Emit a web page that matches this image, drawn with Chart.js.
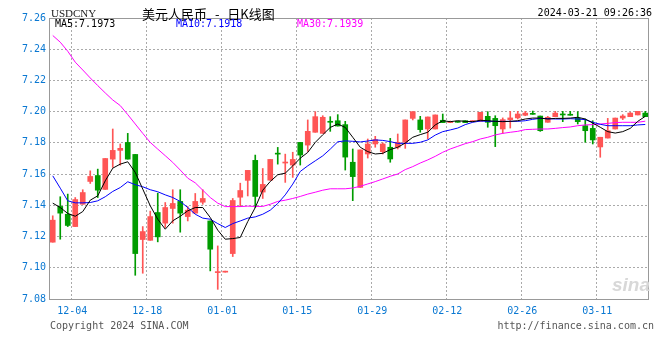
<!DOCTYPE html>
<html>
<head>
<meta charset="utf-8">
<script src="https://cdn.jsdelivr.net/npm/chart.js@4/dist/chart.umd.min.js"></script>
<style>
  body { margin: 0; background: #fff; }
  #wrap { position: relative; width: 660px; height: 360px; background: #fff; }
  #wrap canvas { position: absolute; left: 0; top: 0; }
  .t { position: absolute; white-space: pre; line-height: 1; }
  .mono { font: 10px "DejaVu Sans Mono", monospace; }
</style>
</head>
<body>
<div id="wrap">
  <canvas id="mycanvas" width="660" height="360"></canvas>
  <div class="t" style="left:51px;top:7px;font:11px 'Liberation Serif',serif;color:#222">USDCNY</div>
  <div class="t" style="left:142px;top:4px;font:13px 'Noto Sans CJK SC',sans-serif;color:#000;word-spacing:5px">美元人民币 - 日K线图</div>
  <div class="t mono" style="right:8px;top:7px;color:#000">2024-03-21 09:26:36</div>
  <div class="t mono" style="left:55px;top:18px;color:#000">MA5:7.1973</div>
  <div class="t mono" style="left:176px;top:18px;color:#0000ff">MA10:7.1918</div>
  <div class="t mono" style="left:297px;top:18px;color:#ff00ff">MA30:7.1939</div>
  <div class="t" style="left:612px;top:274px;font:italic bold 19px 'Liberation Sans',sans-serif;color:#d8d8d8">sina</div>
  <div class="t mono" style="left:50px;top:320px;color:#555">Copyright 2024 SINA.COM</div>
  <div class="t mono" style="right:6px;top:320px;color:#555">http://finance.sina.com.cn</div>
</div>
<script>
var dates = ['11-29','11-30','12-01','12-04','12-05','12-06','12-07','12-08','12-11','12-12',
  '12-13','12-14','12-15','12-18','12-19','12-20','12-21','12-22','12-25','12-26',
  '12-27','12-28','12-29','01-01','01-02','01-03','01-04','01-05','01-08','01-09',
  '01-10','01-11','01-12','01-15','01-16','01-17','01-18','01-19','01-22','01-23',
  '01-24','01-25','01-26','01-29','01-30','01-31','02-01','02-02','02-05','02-06',
  '02-07','02-08','02-09','02-12','02-13','02-14','02-15','02-16','02-19','02-20',
  '02-21','02-22','02-23','02-26','02-27','02-28','02-29','03-01','03-04','03-05',
  '03-06','03-07','03-08','03-11','03-12','03-13','03-14','03-15','03-18','03-19'];
var tickDates = ['12-04','12-18','01-01','01-15','01-29','02-12','02-26','03-11'];
var yTicks = [7.08, 7.10, 7.12, 7.14, 7.16, 7.18, 7.20, 7.22, 7.24, 7.26];

var open = [7.1164,7.1393,7.1343,7.1264,7.1407,7.1553,7.1591,7.1502,7.1696,7.1752,
  7.1803,7.1726,7.1181,7.1176,7.1354,7.1286,7.1380,7.1425,7.1328,7.1350,
  7.1420,7.1300,7.0969,7.0972,7.1091,7.1452,7.1560,7.1688,7.1485,7.1561,
  7.1733,7.1671,7.1658,7.1803,7.1786,7.1868,7.1861,7.1938,7.1942,7.1917,
  7.1676,7.1515,7.1729,7.1793,7.1744,7.1772,7.1772,7.1804,7.1957,7.1947,
  7.1889,7.1889,7.1945,7.1930,7.1936,7.1942,7.1936,7.1938,7.1970,7.1957,
  7.1889,7.1949,7.1960,7.1977,7.1987,7.1972,7.1932,7.1968,7.1985,7.1981,
  7.1957,7.1910,7.1893,7.1774,7.1831,7.1889,7.1959,7.1968,7.1979,7.1991];
var close = [7.1305,7.1350,7.1271,7.1437,7.1482,7.1585,7.1497,7.1700,7.1752,7.1765,
  7.1696,7.1091,7.1232,7.1328,7.1198,7.1386,7.1412,7.1350,7.1369,7.1425,
  7.1444,7.1119,7.0971,7.0975,7.1431,7.1495,7.1624,7.1457,7.1534,7.1694,
  7.1728,7.1673,7.1694,7.1722,7.1874,7.1968,7.1964,7.1932,7.1908,7.1709,
  7.1584,7.1755,7.1793,7.1821,7.1793,7.1697,7.1804,7.1947,7.2000,7.1885,
  7.1966,7.1979,7.1930,7.1937,7.1932,7.1930,7.1942,7.1996,7.1932,7.1910,
  7.1949,7.1960,7.1985,7.1991,7.1983,7.1878,7.1964,7.1991,7.1979,7.1977,
  7.1936,7.1878,7.1819,7.1836,7.1878,7.1959,7.1972,7.1991,7.2002,7.1968];
var high = [7.1333,7.1455,7.1472,7.1450,7.1500,7.1621,7.1632,7.1700,7.1889,7.1793,
  7.1861,7.1726,7.1264,7.1363,7.1478,7.1418,7.1500,7.1500,7.1392,7.1476,
  7.1500,7.1300,7.1140,7.0975,7.1444,7.1542,7.1624,7.1722,7.1636,7.1694,
  7.1771,7.1728,7.1740,7.1803,7.1947,7.2000,7.1974,7.1968,7.1981,7.1938,
  7.1761,7.1755,7.1825,7.1842,7.1800,7.1829,7.1857,7.1947,7.2000,7.1970,
  7.1966,7.1979,7.1985,7.1940,7.1936,7.1942,7.1942,7.1996,7.2000,7.1974,
  7.1960,7.2002,7.2002,7.2002,7.2004,7.1972,7.1970,7.2002,7.2002,7.2002,
  7.2000,7.1953,7.1942,7.1836,7.1957,7.1959,7.1981,7.1995,7.2002,7.2002];
var low = [7.1164,7.1183,7.1264,7.1264,7.1407,7.1540,7.1450,7.1502,7.1643,7.1657,
  7.1696,7.0952,7.0965,7.1176,7.1166,7.1258,7.1286,7.1228,7.1300,7.1350,
  7.1407,7.0980,7.0862,7.0972,7.1072,7.1392,7.1460,7.1386,7.1444,7.1561,
  7.1664,7.1547,7.1579,7.1658,7.1745,7.1868,7.1861,7.1874,7.1908,7.1626,
  7.1430,7.1515,7.1703,7.1772,7.1729,7.1676,7.1761,7.1765,7.1947,7.1868,
  7.1825,7.1889,7.1930,7.1930,7.1932,7.1930,7.1936,7.1938,7.1900,7.1776,
  7.1861,7.1895,7.1953,7.1974,7.1983,7.1874,7.1932,7.1968,7.1936,7.1977,
  7.1921,7.1804,7.1793,7.1708,7.1831,7.1889,7.1949,7.1968,7.1979,7.1968];

var ma5 = [7.1414,7.1386,7.1348,7.1330,7.1360,7.1433,7.1461,7.1557,7.1638,7.1664,
  7.1679,7.1611,7.1504,7.1397,7.1311,7.1247,7.1301,7.1330,7.1365,7.1386,
  7.1386,7.1322,7.1241,7.1183,7.1187,7.1194,7.1296,7.1386,7.1497,7.1553,
  7.1596,7.1606,7.1653,7.1702,7.1739,7.1803,7.1852,7.1899,7.1921,7.1899,
  7.1836,7.1772,7.1744,7.1729,7.1733,7.1757,7.1772,7.1799,7.1836,7.1853,
  7.1868,7.1915,7.1942,7.1936,7.1942,7.1938,7.1936,7.1945,7.1942,7.1938,
  7.1936,7.1938,7.1942,7.1953,7.1959,7.1959,7.1953,7.1957,7.1957,7.1959,
  7.1964,7.1953,7.1927,7.1900,7.1872,7.1863,7.1872,7.1893,7.1938,7.1970];
var ma10 = [7.1589,7.1510,7.1429,7.1416,7.1416,7.1418,7.1429,7.1455,7.1489,7.1514,
  7.1551,7.1532,7.1519,7.1500,7.1487,7.1467,7.1450,7.1425,7.1386,7.1343,
  7.1318,7.1311,7.1283,7.1258,7.1283,7.1300,7.1318,7.1326,7.1343,7.1369,
  7.1412,7.1467,7.1536,7.1617,7.1653,7.1685,7.1717,7.1760,7.1807,7.1813,
  7.1810,7.1806,7.1812,7.1819,7.1816,7.1808,7.1797,7.1797,7.1797,7.1804,
  7.1819,7.1850,7.1872,7.1883,7.1895,7.1917,7.1932,7.1940,7.1938,7.1938,
  7.1938,7.1938,7.1938,7.1942,7.1951,7.1957,7.1955,7.1953,7.1953,7.1955,
  7.1953,7.1949,7.1932,7.1919,7.1910,7.1910,7.1910,7.1910,7.1915,7.1918];
var ma30 = [7.2488,7.2445,7.2387,7.2317,7.2267,7.2216,7.2167,7.2120,7.2075,7.2039,
  7.1981,7.1921,7.1861,7.1803,7.1760,7.1718,7.1675,7.1626,7.1574,7.1544,
  7.1497,7.1450,7.1414,7.1392,7.1392,7.1392,7.1395,7.1393,7.1393,7.1407,
  7.1425,7.1433,7.1444,7.1457,7.1472,7.1484,7.1497,7.1506,7.1506,7.1506,
  7.1511,7.1522,7.1537,7.1552,7.1569,7.1586,7.1601,7.1629,7.1648,7.1671,
  7.1691,7.1714,7.1740,7.1761,7.1778,7.1795,7.1808,7.1825,7.1836,7.1851,
  7.1861,7.1868,7.1874,7.1885,7.1887,7.1889,7.1889,7.1893,7.1898,7.1902,
  7.1910,7.1915,7.1917,7.1921,7.1925,7.1930,7.1932,7.1932,7.1932,7.1939];

var upColor = '#ff5555';
var downColor = '#009c00';

var bodies = [];
var wicks = [];
var colors = [];
for (var i in dates) {
  bodies.push([open[i], close[i]]);
  wicks.push([low[i], high[i]]);
  colors.push(close[i] >= open[i] ? upColor : downColor);
}

// frame round the plot area
var framePlugin = {
  id: 'frame',
  afterDraw: function(chart) {
    var a = chart.chartArea;
    var c = chart.ctx;
    c.save();
    c.strokeStyle = '#999';
    c.lineWidth = 1;
    c.strokeRect(Math.round(a.left) + 0.5, Math.round(a.top) + 0.5,
      Math.round(a.right - a.left) - 1, Math.round(a.bottom - a.top));
    c.restore();
  }
};

var monoFont = { family: 'DejaVu Sans Mono', size: 10 };

var ctx = document.getElementById('mycanvas');
var kChart = new Chart(ctx, {
  type: 'bar',
  data: {
    labels: dates,
    datasets: [
      { type: 'line', label: 'MA5', data: ma5, borderColor: '#000000', borderWidth: 1,
        pointRadius: 0, tension: 0, fill: false, order: 0 },
      { type: 'line', label: 'MA10', data: ma10, borderColor: '#0000ff', borderWidth: 1,
        pointRadius: 0, tension: 0, fill: false, order: 0 },
      { type: 'line', label: 'MA30', data: ma30, borderColor: '#ff00ff', borderWidth: 1,
        pointRadius: 0, tension: 0, fill: false, order: 0 },
      { label: 'body', data: bodies, backgroundColor: colors, borderWidth: 0,
        barThickness: 5, minBarLength: 1, grouped: false, order: 1 },
      { label: 'wick', data: wicks, backgroundColor: colors, borderWidth: 0,
        barThickness: 1, minBarLength: 1, grouped: false, order: 2 }
    ]
  },
  options: {
    responsive: false,
    animation: false,
    layout: { padding: { top: 18, right: 11, left: 0, bottom: 0 } },
    plugins: { legend: { display: false }, tooltip: { enabled: false } },
    scales: {
      x: {
        offset: true,
        grid: {
          offset: true,
          drawTicks: false,
          color: function(c) {
            return tickDates.indexOf(dates[c.index]) >= 0 ? '#aaaaaa' : 'rgba(0,0,0,0)';
          }
        },
        border: { display: false, dash: [2, 2] },
        ticks: {
          autoSkip: false,
          maxRotation: 0,
          padding: 6,
          labelOffset: -3,
          color: '#0a78d2',
          font: monoFont,
          callback: function(v, i) {
            return tickDates.indexOf(dates[i]) >= 0 ? dates[i] : '';
          }
        },
        afterFit: function(s) { s.height = 61; }
      },
      y: {
        min: yTicks[0],
        max: yTicks[yTicks.length - 1],
        afterBuildTicks: function(s) {
          s.ticks = yTicks.map(function(v) { return { value: v }; });
        },
        grid: { drawTicks: false, color: '#aaaaaa' },
        border: { display: false, dash: [2, 2] },
        ticks: {
          padding: 3,
          color: '#0a78d2',
          font: monoFont,
          callback: function(v) { return v.toFixed(2); }
        },
        afterFit: function(s) { s.width = 49; }
      }
    }
  },
  plugins: [framePlugin]
});
</script>
</body>
</html>
